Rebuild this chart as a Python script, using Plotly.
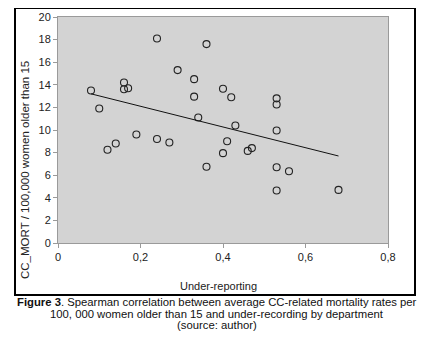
import plotly.graph_objects as go

under_reporting = [0.08, 0.10, 0.12, 0.14, 0.16, 0.16, 0.17, 0.19, 0.24, 0.24, 0.27, 0.29,
                   0.33, 0.33, 0.34, 0.36, 0.36, 0.40, 0.42, 0.43, 0.41, 0.40, 0.46, 0.47,
                   0.53, 0.53, 0.53, 0.53, 0.56, 0.53, 0.68]
cc_mort = [13.5, 11.9, 8.25, 8.8, 14.2, 13.6, 13.7, 9.6, 18.1, 9.2, 8.9, 15.3,
           14.5, 12.95, 11.1, 17.6, 6.75, 13.65, 12.9, 10.4, 9.0, 7.95, 8.15, 8.4,
           12.8, 12.25, 9.95, 6.7, 6.35, 4.65, 4.7]
trend_x = [0.08, 0.68]
trend_y = [13.2, 7.7]

x_ticks = [0, 0.2, 0.4, 0.6, 0.8]
y_ticks = [0, 2, 4, 6, 8, 10, 12, 14, 16, 18, 20]

FONT = "Liberation Sans, Arial, sans-serif"

# page body has an 8px margin; figure is offset accordingly
OFF = 8
PL, PR, PT, PB = 58, 388, 17, 243  # plot area in window pixels
W, H = 433 - OFF, 347 - OFF
pw, ph = PR - PL, PB - PT


def px(x):
    return (x - PL) / pw


def py(y):
    return (PB - y) / ph


fig = go.Figure()
fig.add_trace(go.Scatter(
    x=under_reporting, y=cc_mort, mode="markers",
    marker=dict(symbol="circle-open", size=7, color="#222222", line=dict(width=1.1, color="#222222")),
    showlegend=False, hoverinfo="x+y"))
fig.add_trace(go.Scatter(
    x=trend_x, y=trend_y, mode="lines",
    line=dict(color="#111111", width=1), showlegend=False))

# outer chart frame
BX0, BX1, BY0, BY1 = 15, 415, 8, 295

fig.update_layout(
    template="none",
    width=W, height=H,
    margin=dict(l=PL - OFF, r=W - (PR - OFF), t=PT - OFF, b=H - (PB - OFF), pad=0, autoexpand=False),
    paper_bgcolor="white", plot_bgcolor="#d3d3d3",
    separators=",.",
    font=dict(family=FONT, size=11, color="#222222"),
    xaxis=dict(range=[0, 0.8], tickvals=x_ticks, showgrid=False, zeroline=False,
               automargin=False,
               showline=True, linecolor="#9a9a9a", linewidth=1, mirror=True,
               ticks="outside", ticklen=4, tickcolor="#9a9a9a",
               tickfont=dict(size=11, color="#222222")),
    yaxis=dict(range=[0, 20], tickvals=y_ticks, showgrid=False, zeroline=False,
               automargin=False,
               showline=True, linecolor="#9a9a9a", linewidth=1, mirror=True,
               ticks="outside", ticklen=4, tickcolor="#9a9a9a",
               tickfont=dict(size=11, color="#222222")),
    shapes=[dict(type="rect", xref="paper", yref="paper",
                 x0=px(BX0), x1=px(BX1), y0=py(BY1), y1=py(BY0),
                 line=dict(color="#000000", width=2), fillcolor="rgba(0,0,0,0)", layer="above")],
    annotations=[
        dict(text="CC_MORT / 100,000 women older than 15", textangle=-90,
             xref="paper", yref="paper", x=px(25), y=py(170),
             xanchor="center", yanchor="middle", showarrow=False,
             font=dict(size=11.5, color="#222222")),
        dict(text="Under-reporting", xref="paper", yref="paper",
             x=px(218), y=py(285.5),
             xanchor="center", yanchor="middle", showarrow=False,
             font=dict(size=11, color="#222222")),
        dict(text="<b>Figure 3</b>. Spearman correlation between average CC-related mortality rates per",
             xref="paper", yref="paper", x=px(216.5), y=py(302),
             xanchor="center", yanchor="middle", showarrow=False,
             font=dict(size=11.3, color="#111111")),
        dict(text="100, 000 women older than 15 and under-recording by department",
             xref="paper", yref="paper", x=px(216.5), y=py(313.5),
             xanchor="center", yanchor="middle", showarrow=False,
             font=dict(size=11.3, color="#111111")),
        dict(text="(source: author)",
             xref="paper", yref="paper", x=px(216.5), y=py(325),
             xanchor="center", yanchor="middle", showarrow=False,
             font=dict(size=11.3, color="#111111")),
    ],
)

fig.write_html("out.html")
